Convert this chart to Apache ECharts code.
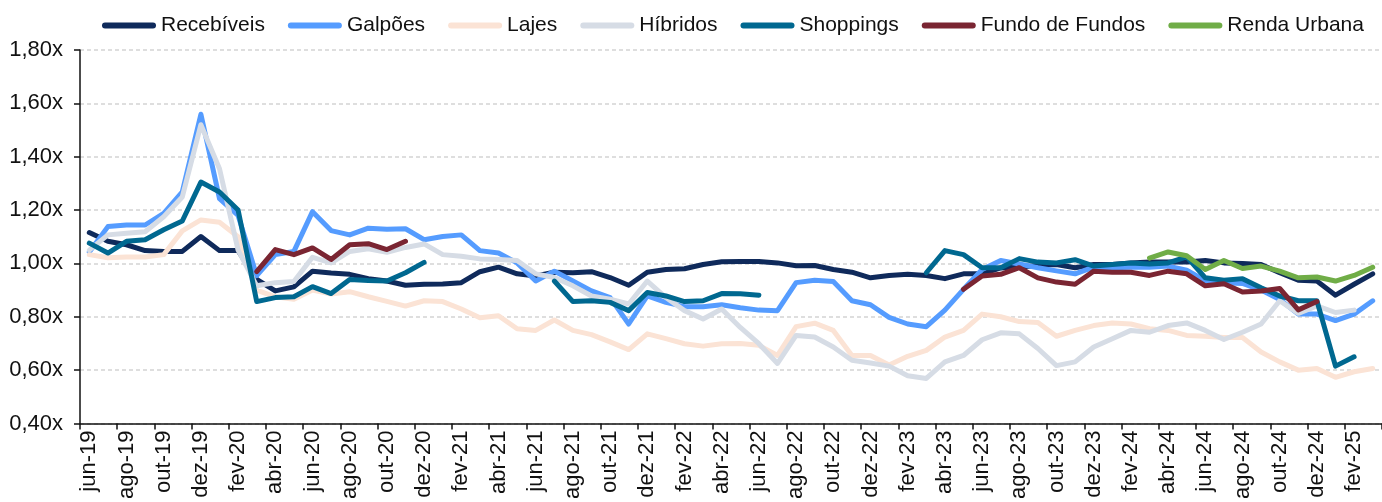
<!DOCTYPE html>
<html>
<head>
<meta charset="utf-8">
<script src="https://cdn.jsdelivr.net/npm/echarts@6/dist/echarts.min.js"></script>
<style>
html,body{margin:0;padding:0;background:#fff;}
#chart{width:1382px;height:502px;}
</style>
</head>
<body>
<div id="chart"></div>
<script>
const categories = [
 'jun-19','jul-19','ago-19','set-19','out-19','nov-19','dez-19',
 'jan-20','fev-20','mar-20','abr-20','mai-20','jun-20','jul-20','ago-20','set-20','out-20','nov-20','dez-20',
 'jan-21','fev-21','mar-21','abr-21','mai-21','jun-21','jul-21','ago-21','set-21','out-21','nov-21','dez-21',
 'jan-22','fev-22','mar-22','abr-22','mai-22','jun-22','jul-22','ago-22','set-22','out-22','nov-22','dez-22',
 'jan-23','fev-23','mar-23','abr-23','mai-23','jun-23','jul-23','ago-23','set-23','out-23','nov-23','dez-23',
 'jan-24','fev-24','mar-24','abr-24','mai-24','jun-24','jul-24','ago-24','set-24','out-24','nov-24','dez-24',
 'jan-25','fev-25','mar-25'
];

const recebiveis = [
 1.116,1.083,1.070,1.048,1.045,1.045,1.101,
 1.048,1.048,0.940,0.897,0.912,0.971,0.964,0.959,0.943,0.934,0.918,0.922,
 0.923,0.928,0.969,0.986,0.961,0.953,0.967,0.965,0.969,0.947,0.918,0.967,
 0.977,0.980,0.996,1.006,1.007,1.007,1.002,0.991,0.992,0.977,0.967,0.946,
 0.955,0.959,0.955,0.943,0.961,0.961,0.983,0.987,0.992,0.996,0.984,0.996,
 0.996,1.002,1.005,1.005,1.005,1.011,1.002,1.000,0.996,0.965,0.937,0.934,
 0.881,0.922,0.961
];

const galpoes = [
 1.043,1.138,1.144,1.144,1.188,1.268,1.559,
 1.243,1.180,0.954,1.033,1.045,1.194,1.123,1.107,1.132,1.128,1.130,1.089,
 1.101,1.107,1.048,1.039,1.002,0.934,0.971,0.934,0.897,0.872,0.773,0.878,
 0.854,0.838,0.838,0.845,0.834,0.825,0.823,0.928,0.937,0.932,0.860,0.845,
 0.798,0.773,0.763,0.825,0.903,0.977,1.011,0.998,0.984,0.972,0.961,0.986,
 0.984,0.986,0.986,0.990,0.975,0.935,0.928,0.925,0.900,0.865,0.810,0.810,
 0.786,0.810,0.860
];

const lajes = [
 1.033,1.021,1.024,1.024,1.033,1.122,1.163,
 1.154,1.100,0.900,0.875,0.866,0.900,0.885,0.894,0.875,0.858,0.840,0.860,
 0.857,0.829,0.796,0.804,0.755,0.749,0.788,0.749,0.733,0.706,0.677,0.736,
 0.718,0.699,0.690,0.699,0.700,0.693,0.655,0.763,0.776,0.749,0.655,0.655,
 0.619,0.652,0.674,0.724,0.749,0.810,0.800,0.782,0.779,0.727,0.749,0.767,
 0.777,0.773,0.755,0.749,0.730,0.727,0.722,0.722,0.668,0.631,0.600,0.606,
 0.573,0.594,0.606
];

const hibridos = [
 1.050,1.107,1.113,1.119,1.175,1.249,1.520,
 1.355,1.050,0.916,0.928,0.932,1.023,1.002,1.045,1.055,1.042,1.060,1.073,
 1.033,1.027,1.017,1.015,1.011,0.961,0.947,0.916,0.878,0.866,0.848,0.934,
 0.872,0.823,0.792,0.829,0.760,0.699,0.625,0.730,0.724,0.687,0.637,0.627,
 0.615,0.579,0.569,0.631,0.655,0.714,0.740,0.736,0.681,0.617,0.631,0.687,
 0.718,0.749,0.742,0.767,0.777,0.749,0.715,0.742,0.773,0.860,0.813,0.841,
 0.816,0.825,null
];

const shoppings = [
 1.076,1.039,1.083,1.089,1.126,1.159,1.305,
 1.268,1.200,0.857,0.872,0.875,0.913,0.887,0.940,0.936,0.934,0.965,1.004,
 null,null,null,null,null,null,0.934,0.857,0.860,0.854,0.823,0.891,
 0.878,0.857,0.860,0.887,0.886,0.881,null,null,null,null,null,null,
 null,null,0.965,1.048,1.033,0.984,0.984,1.018,1.005,1.002,1.014,0.990,
 0.996,1.002,0.998,1.002,1.025,0.946,0.937,0.943,0.909,0.878,0.860,0.860,
 0.615,0.650,null
];

const fundoDeFundos = [
 null,null,null,null,null,null,null,
 null,null,0.969,1.052,1.033,1.058,1.015,1.070,1.074,1.052,1.083,null,
 null,null,null,null,null,null,null,null,null,null,null,null,
 null,null,null,null,null,null,null,null,null,null,null,null,
 null,null,null,null,0.903,0.953,0.959,0.984,0.946,0.930,0.922,0.971,
 0.967,0.967,0.955,0.971,0.961,0.916,0.924,0.893,0.897,0.906,0.826,0.857,
 null,null,null
];

const rendaUrbana = [
 null,null,null,null,null,null,null,
 null,null,null,null,null,null,null,null,null,null,null,null,
 null,null,null,null,null,null,null,null,null,null,null,null,
 null,null,null,null,null,null,null,null,null,null,null,null,
 null,null,null,null,null,null,null,null,null,null,null,null,
 null,null,1.020,1.043,1.029,0.977,1.011,0.981,0.990,0.971,0.946,0.949,
 0.934,0.955,0.986
];

const seriesNames = ['Recebíveis','Galpões','Lajes','Híbridos','Shoppings','Fundo de Fundos','Renda Urbana'];
const seriesData = [recebiveis, galpoes, lajes, hibridos, shoppings, fundoDeFundos, rendaUrbana];
const seriesColors = ['#0f2a5b','#559cff','#fbe3d5','#d6dce5','#006890','#7a2532','#70ad47'];

const FONT = '"Liberation Sans", Arial, sans-serif';
const chart = echarts.init(document.getElementById('chart'), null, {renderer:'canvas'});

const pill = 'path://M3,0 L51,0 A3,3 0 0 1 51,6 L3,6 A3,3 0 0 1 3,0 Z';

chart.setOption({
  animation: false,
  backgroundColor: '#fff',
  color: seriesColors,
  legend: {
    left: 97,
    top: 10,
    itemWidth: 54,
    itemHeight: 6,
    itemGap: 23,
    icon: pill,
    textStyle: {fontFamily: FONT, fontSize: 21, color: '#111'},
    data: seriesNames
  },
  grid: {left: 80, right: -7, top: 50, bottom: 75, containLabel: false},
  xAxis: {
    type: 'category',
    data: categories,
    boundaryGap: true,
    axisLine: {show: true, lineStyle: {color: '#111', width: 1.5}},
    axisTick: {show: true, interval: 1, length: 6, alignWithLabel: false, lineStyle: {color: '#111', width: 1.5}},
    axisLabel: {interval: 1, rotate: 90, margin: 7, fontFamily: FONT, fontSize: 22, color: '#111'},
    splitLine: {show: false}
  },
  yAxis: {
    type: 'value',
    min: 0.4,
    max: 1.8,
    interval: 0.2,
    axisLine: {show: true, lineStyle: {color: '#111', width: 1.5}},
    axisTick: {show: true, length: 6, lineStyle: {color: '#111', width: 1.5}},
    axisLabel: {
      margin: 17,
      fontFamily: FONT, fontSize: 22, color: '#111',
      formatter: v => v.toFixed(2).replace('.', ',') + 'x'
    },
    splitLine: {show: true, lineStyle: {color: '#d3d3d3', width: 1.5, type: [4,3]}}
  },
  series: seriesNames.map((name, k) => ({
    name: name,
    type: 'line',
    data: seriesData[k],
    symbol: 'none',
    showSymbol: false,
    connectNulls: false,
    smooth: false,
    lineStyle: {width: 5, color: seriesColors[k], cap: 'round', join: 'round'},
    itemStyle: {color: seriesColors[k]},
    z: 2 + k
  }))
});
</script>
</body>
</html>
